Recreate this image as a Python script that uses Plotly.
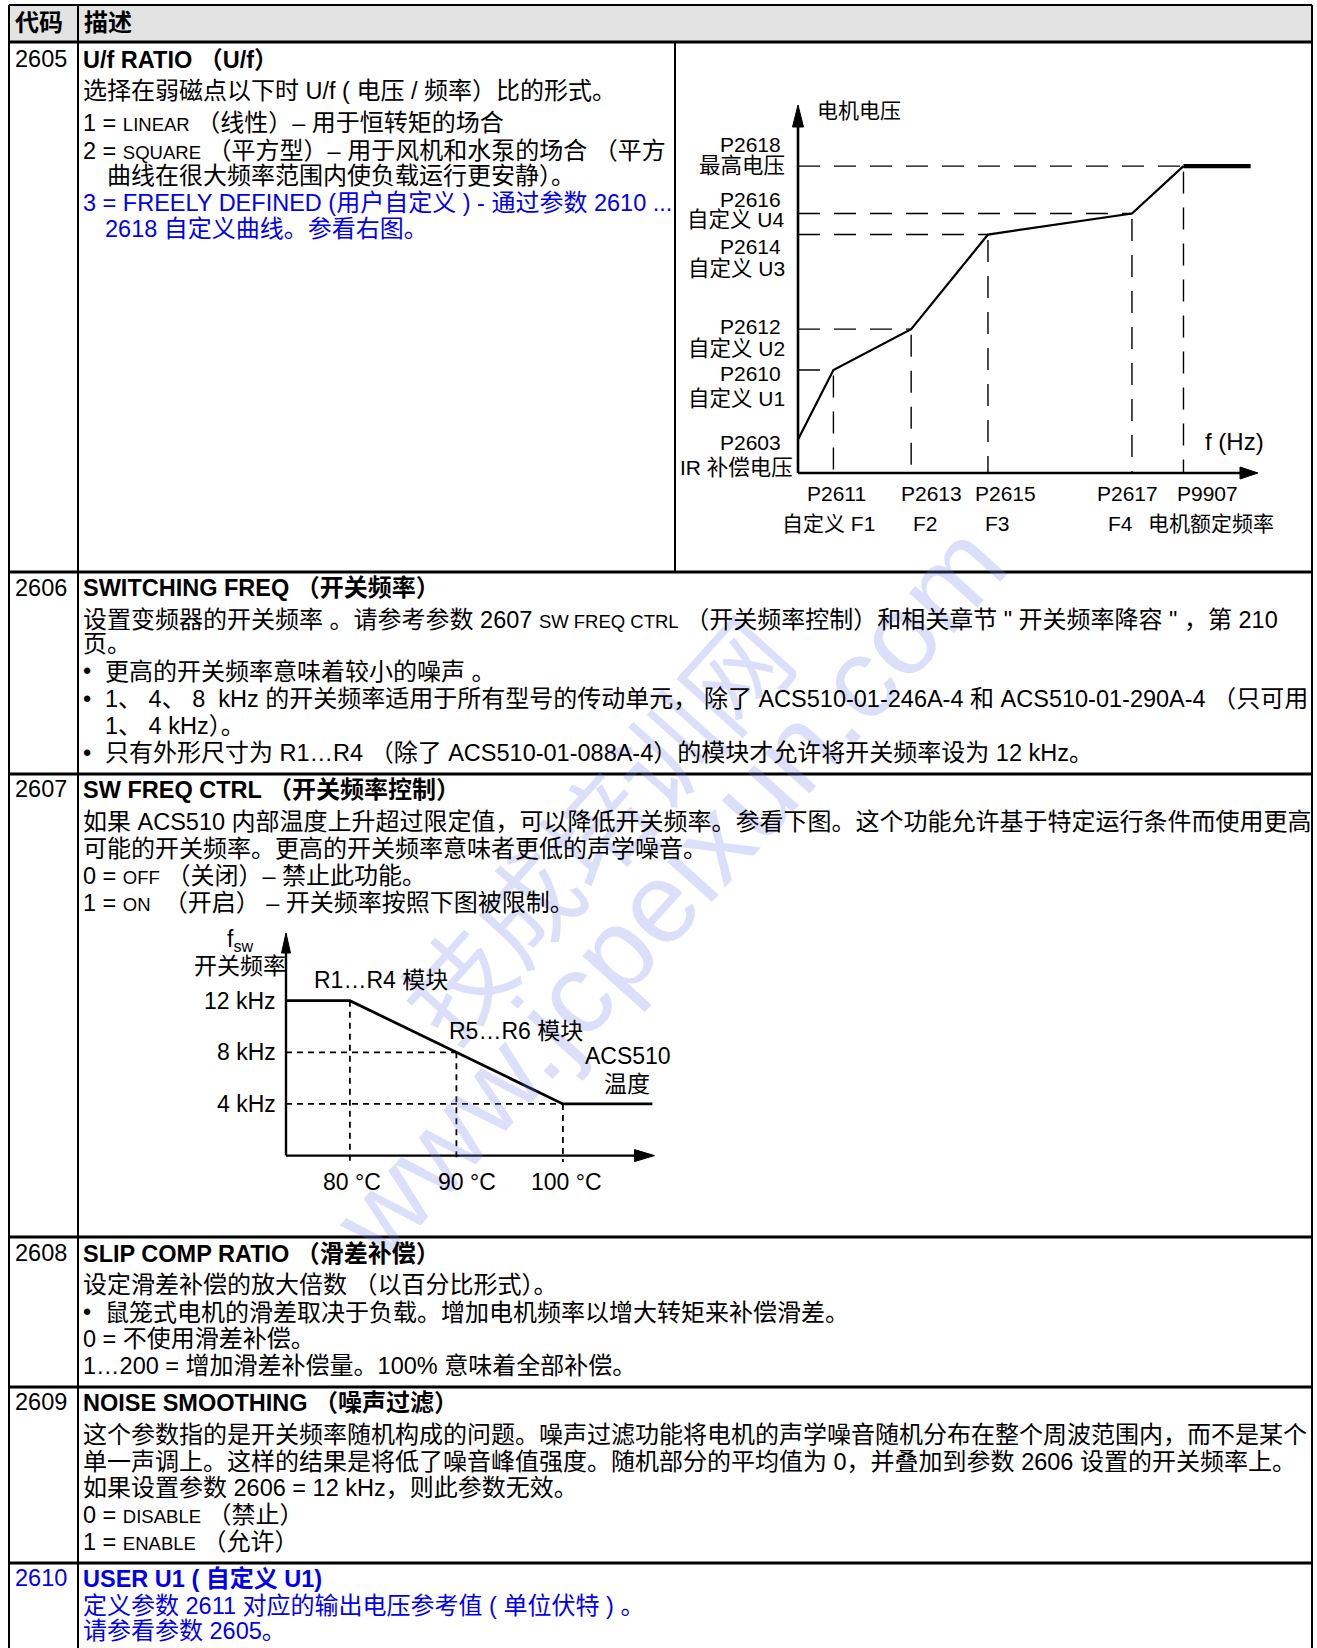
import re
import plotly.graph_objects as go

W, H = 1317, 1648
FONT = "Liberation Sans, Arial, Noto Sans CJK SC, sans-serif"
BLACK = "#000000"
BLUE = "#0000ee"
LATIN = 23.5

# ---------------- table structure (pixels) ----------------
table_left, table_right = 9, 1312
table_top, header_bottom = 5, 42
code_col = 78
chart_col = 675
row_lines = [572, 774, 1237, 1387, 1563]

# ---------------- text content ----------------
header_cells = [("代码", 13), ("描述", 82)]
codes = [("2605", 59, BLACK), ("2606", 588, BLACK), ("2607", 789, BLACK),
         ("2608", 1253, BLACK), ("2609", 1402, BLACK), ("2610", 1578, BLUE)]
titles = [("U/f RATIO （U/f）", 59, BLACK),
          ("SWITCHING FREQ （开关频率）", 588, BLACK),
          ("SW FREQ CTRL （开关频率控制）", 789, BLACK),
          ("SLIP COMP RATIO （滑差补偿）", 1253, BLACK),
          ("NOISE SMOOTHING （噪声过滤）", 1402, BLACK),
          ("USER U1 ( 自定义 U1)", 1578, BLUE)]
# (x, y, text, color)
body_lines = [
    (81, 90.5, "选择在弱磁点以下时 U/f ( 电压 / 频率）比的形式。", BLACK),
    (81, 123, "1 = [[LINEAR]] （线性）– 用于恒转矩的场合", BLACK),
    (81, 150, "2 = [[SQUARE]] （平方型）– 用于风机和水泵的场合 （平方", BLACK),
    (105, 176, "曲线在很大频率范围内使负载运行更安静）。", BLACK),
    (81, 202, "3 = FREELY DEFINED (用户自定义 ) - 通过参数 2610 ...", BLUE),
    (103, 228, "2618 自定义曲线。参看右图。", BLUE),

    (81, 619, "设置变频器的开关频率 。请参考参数 2607 [[SW FREQ CTRL]] （开关频率控制）和相关章节 \" 开关频率降容 \" ，第 210", BLACK),
    (81, 644, "页。", BLACK),
    (81, 671.5, "•", BLACK),
    (103, 671.5, "更高的开关频率意味着较小的噪声 。", BLACK),
    (81, 699, "•", BLACK),
    (103, 699, "1、 4、 8 \u00a0kHz 的开关频率适用于所有型号的传动单元， 除了 ACS510-01-246A-4 和 ACS510-01-290A-4 （只可用", BLACK),
    (103, 725, "1、 4 kHz）。", BLACK),
    (81, 752.5, "•", BLACK),
    (103, 752.5, "只有外形尺寸为 R1…R4 （除了 ACS510-01-088A-4）的模块才允许将开关频率设为 12 kHz。", BLACK),

    (81, 821, "如果 ACS510 内部温度上升超过限定值，可以降低开关频率。参看下图。这个功能允许基于特定运行条件而使用更高", BLACK),
    (81, 848, "可能的开关频率。更高的开关频率意味者更低的声学噪音。", BLACK),
    (81, 875.5, "0 = [[OFF]] （关闭）– 禁止此功能。", BLACK),
    (81, 902, "1 = [[ON]] \u00a0（开启） – 开关频率按照下图被限制。", BLACK),

    (81, 1284.5, "设定滑差补偿的放大倍数 （以百分比形式）。", BLACK),
    (81, 1312, "•", BLACK),
    (103, 1312, "鼠笼式电机的滑差取决于负载。增加电机频率以增大转矩来补偿滑差。", BLACK),
    (81, 1338, "0 = 不使用滑差补偿。", BLACK),
    (81, 1365.5, "1…200 = 增加滑差补偿量。100% 意味着全部补偿。", BLACK),

    (81, 1434, "这个参数指的是开关频率随机构成的问题。噪声过滤功能将电机的声学噪音随机分布在整个周波范围内，而不是某个", BLACK),
    (81, 1461, "单一声调上。这样的结果是将低了噪音峰值强度。随机部分的平均值为 0，并叠加到参数 2606 设置的开关频率上。", BLACK),
    (81, 1487, "如果设置参数 2606 = 12 kHz，则此参数无效。", BLACK),
    (81, 1514, "0 = [[DISABLE]] （禁止）", BLACK),
    (81, 1541, "1 = [[ENABLE]] （允许）", BLACK),

    (81, 1605, "定义参数 2611 对应的输出电压参考值 ( 单位伏特 ) 。", BLUE),
    (81, 1630, "请参看参数 2605。", BLUE),
]

# ---------------- U/f chart data (relative units, % of axis length) ----------------
uf_freq = [0, 7.7, 24.6, 41.3, 72.6, 83.8]        # IR, F1, F2, F3, F4, rated
uf_volt = [9.1, 28.0, 39.1, 64.8, 70.5, 83.4]     # IR comp, U1, U2, U3, U4, max
uf_flat_end = 98.4
uf_axis_end = 100
uf_y_labels = [("P2618", 783, 144.5), ("最高电压", 787, 166),
               ("P2616", 783, 199.5), ("自定义 U4", 787, 220),
               ("P2614", 783, 246.5), ("自定义 U3", 787, 269),
               ("P2612", 783, 327), ("自定义 U2", 787, 349),
               ("P2610", 783, 373), ("自定义 U1", 787, 398.5),
               ("P2603", 783, 442), ("IR 补偿电压", 795, 468)]
uf_x_codes = [("P2611", 836), ("P2613", 931), ("P2615", 1005), ("P2617", 1127), ("P9907", 1207)]
uf_x_names = [("自定义 F1", 828), ("F2", 925.5), ("F3", 997.5), ("F4", 1120.5), ("电机额定频率", 1211)]

# ---------------- switching frequency chart data ----------------
sw_temp = [74, 80, 100, 108.4]     # deg C
sw_freq = [12, 12, 4, 4]           # kHz
sw_t_ticks = [80, 90, 100]
sw_t_labels = ["80 °C", "90 °C", "100 °C"]
sw_t_shift = [2.5, 11, 4]
sw_f_ticks = [12, 8, 4]
sw_f_labels = ["12 kHz", "8 kHz", "4 kHz"]
sw_origin_t = 74
sw_axis_t_end = 108.6
sw_axis_f_end = 17.24

# ---------------- helpers ----------------
CJK_RE = re.compile(r'([\u2e80-\u9fff\u3000-\u303f\uff00-\uffef]+)')
SC_RE = re.compile(r'\[\[(.+?)\]\]')


def rich(s, cjk=24, sc=18.5):
    s = CJK_RE.sub(lambda m: f'<span style="font-size:{cjk}px">{m.group(1)}</span>', s)
    s = SC_RE.sub(lambda m: f'<span style="font-size:{sc}px">{m.group(1)}</span>', s)
    return s


def PX(x):
    return x / W


def PY(y):
    return 1 - y / H


annotations = []
shapes = []


def txt(x, y, s, size=LATIN, color=BLACK, xanchor='left', cjk=24, bold=False,
        xref='paper', yref='paper', xshift=0, yshift=0):
    t = rich(s, cjk)
    if bold:
        t = f"<b>{t}</b>"
    annotations.append(dict(
        x=PX(x) if xref == 'paper' else x,
        y=PY(y) if yref == 'paper' else y,
        xref=xref, yref=yref, text=t, showarrow=False,
        xanchor=xanchor, yanchor='middle', align=xanchor,
        font=dict(family=FONT, size=size, color=color),
        xshift=xshift, yshift=yshift))


def hline(y, x0, x1, w=2):
    shapes.append(dict(type='line', xref='paper', yref='paper',
                       x0=PX(x0), x1=PX(x1), y0=PY(y), y1=PY(y),
                       line=dict(color=BLACK, width=w)))


def vline(x, y0, y1, w=2):
    shapes.append(dict(type='line', xref='paper', yref='paper',
                       x0=PX(x), x1=PX(x), y0=PY(y0), y1=PY(y1),
                       line=dict(color=BLACK, width=w)))


# ---------------- watermark (drawn first, faint) ----------------
WM = "rgba(120,130,235,0.26)"
annotations.append(dict(x=PX(592), y=PY(825), xref='paper', yref='paper', showarrow=False,
                        text="技成培训网", textangle=-48,
                        font=dict(family="Noto Sans CJK SC", size=104, color=WM)))
annotations.append(dict(x=PX(668), y=PY(891), xref='paper', yref='paper', showarrow=False,
                        text="www.jcpeixun.com", textangle=-48,
                        font=dict(family="Liberation Sans", size=114, color=WM)))

# ---------------- table ----------------
shapes.append(dict(type='rect', xref='paper', yref='paper', x0=PX(table_left), x1=PX(table_right),
                   y0=PY(header_bottom), y1=PY(table_top), fillcolor="#e3e3e3", line=dict(width=0),
                   layer='below'))
hline(table_top, table_left, table_right, 2)
hline(header_bottom, table_left, table_right, 3)
for y in row_lines:
    hline(y, table_left, table_right, 3)
vline(table_left, table_top, H + 2, 2)
vline(table_right, table_top, H + 2, 2)
vline(code_col, table_top, H + 2, 2)
vline(chart_col, header_bottom, row_lines[0], 2)

for s, x in header_cells:
    txt(x, 22, s, bold=True)
for s, y, c in codes:
    txt(13, y, s, color=c)
for s, y, c in titles:
    txt(81, y, s, color=c, bold=True)
for x, y, s, c in body_lines:
    txt(x, y, s, color=c)

fig = go.Figure()

# ---------------- U/f chart (x, y axes) ----------------
uf_px0, uf_sx = 798, 4.6        # x: px at 0, px per unit
uf_py0, uf_sy = 473, 3.68       # y: px at 0, px per unit (upwards)
uf_xr = [-3, 104]
uf_yr = [-3, 104]
dashes_uf = "22px,14px"
for f, u in zip(uf_freq[1:], uf_volt[1:]):
    fig.add_trace(go.Scatter(x=[0, f], y=[u, u], mode='lines', xaxis='x', yaxis='y',
                             line=dict(color=BLACK, width=1.4, dash=dashes_uf), hoverinfo='skip'))
    fig.add_trace(go.Scatter(x=[f, f], y=[u - 1.5, 0], mode='lines', xaxis='x', yaxis='y',
                             line=dict(color=BLACK, width=1.4, dash=dashes_uf), hoverinfo='skip'))
fig.add_trace(go.Scatter(x=uf_freq, y=uf_volt, mode='lines', xaxis='x', yaxis='y',
                         line=dict(color=BLACK, width=2.2), hoverinfo='skip'))
fig.add_trace(go.Scatter(x=[uf_freq[-1], uf_flat_end], y=[uf_volt[-1], uf_volt[-1]], mode='lines',
                         xaxis='x', yaxis='y', line=dict(color=BLACK, width=4.2), hoverinfo='skip'))
ah_len_y, ah_w_y = 22 / uf_sy, 5.5 / uf_sx
ah_len_x, ah_w_x = 18 / uf_sx, 6 / uf_sy
fig.add_trace(go.Scatter(x=[0, 0], y=[0, uf_axis_end - ah_len_y + 0.5], mode='lines', xaxis='x', yaxis='y',
                         line=dict(color=BLACK, width=2.6), hoverinfo='skip'))
fig.add_trace(go.Scatter(x=[0, uf_axis_end - ah_len_x + 0.5], y=[0, 0], mode='lines', xaxis='x', yaxis='y',
                         line=dict(color=BLACK, width=2.6), hoverinfo='skip'))
fig.add_trace(go.Scatter(x=[0, -ah_w_y, ah_w_y, 0], y=[uf_axis_end, uf_axis_end - ah_len_y, uf_axis_end - ah_len_y, uf_axis_end],
                         mode='lines', fill='toself', fillcolor=BLACK, xaxis='x', yaxis='y',
                         line=dict(color=BLACK, width=1), hoverinfo='skip'))
fig.add_trace(go.Scatter(x=[uf_axis_end, uf_axis_end - ah_len_x, uf_axis_end - ah_len_x, uf_axis_end], y=[0, ah_w_x, -ah_w_x, 0],
                         mode='lines', fill='toself', fillcolor=BLACK, xaxis='x', yaxis='y',
                         line=dict(color=BLACK, width=1), hoverinfo='skip'))

txt(814.6, 110.4, "电机电压", size=21, cjk=21)
for s, x, y in uf_y_labels:
    txt(x, y, s, size=21, cjk=21.5, xanchor='right')
for s, x in uf_x_codes:
    txt(x, 494, s, size=21, cjk=21, xanchor='center')
for s, x in uf_x_names:
    txt(x, 523.5, s, size=21, cjk=21, xanchor='center')
txt(1234, 441, "f (Hz)", size=24, xanchor='center')

# ---------------- switching frequency chart (x2, y2 axes) ----------------
sw_px0, sw_sx = 286, 10.65      # px at 74 C, px per degC
sw_py0, sw_sy = 1155.6, 12.91   # px at 0 kHz, px per kHz
sw_xr = [72, 110]
sw_yr = [-1.5, 18.5]
dash_sw = "6px,5px"
for t, f in zip(sw_t_ticks, sw_f_ticks):
    if f != 12:
        fig.add_trace(go.Scatter(x=[sw_origin_t, t], y=[f, f], mode='lines', xaxis='x2', yaxis='y2',
                                 line=dict(color=BLACK, width=1.8, dash=dash_sw), hoverinfo='skip'))
    fig.add_trace(go.Scatter(x=[t, t], y=[f, -0.5], mode='lines', xaxis='x2', yaxis='y2',
                             line=dict(color=BLACK, width=1.8, dash=dash_sw), hoverinfo='skip'))
fig.add_trace(go.Scatter(x=sw_temp, y=sw_freq, mode='lines', xaxis='x2', yaxis='y2',
                         line=dict(color=BLACK, width=2.8), hoverinfo='skip'))
sah_len_y, sah_w_y = 20 / sw_sy, 4.5 / sw_sx
sah_len_x, sah_w_x = 20 / sw_sx, 6 / sw_sy
fig.add_trace(go.Scatter(x=[sw_origin_t, sw_origin_t], y=[0, sw_axis_f_end - sah_len_y + 0.2], mode='lines',
                         xaxis='x2', yaxis='y2', line=dict(color=BLACK, width=2.4), hoverinfo='skip'))
fig.add_trace(go.Scatter(x=[sw_origin_t, sw_axis_t_end - sah_len_x + 0.2], y=[0, 0], mode='lines',
                         xaxis='x2', yaxis='y2', line=dict(color=BLACK, width=2.4), hoverinfo='skip'))
fig.add_trace(go.Scatter(x=[sw_origin_t, sw_origin_t - sah_w_y, sw_origin_t + sah_w_y, sw_origin_t],
                         y=[sw_axis_f_end, sw_axis_f_end - sah_len_y, sw_axis_f_end - sah_len_y, sw_axis_f_end],
                         mode='lines', fill='toself', fillcolor=BLACK, xaxis='x2', yaxis='y2',
                         line=dict(color=BLACK, width=1), hoverinfo='skip'))
fig.add_trace(go.Scatter(x=[sw_axis_t_end, sw_axis_t_end - sah_len_x, sw_axis_t_end - sah_len_x, sw_axis_t_end],
                         y=[0, sah_w_x, -sah_w_x, 0],
                         mode='lines', fill='toself', fillcolor=BLACK, xaxis='x2', yaxis='y2',
                         line=dict(color=BLACK, width=1), hoverinfo='skip'))

for f, s in zip(sw_f_ticks, sw_f_labels):
    txt(sw_origin_t, f, s, size=23, xanchor='right', xref='x2', yref='y2', xshift=-8)
for t, s, sh in zip(sw_t_ticks, sw_t_labels, sw_t_shift):
    txt(t, 0, s, size=23, xanchor='center', xref='x2', yref='y2', xshift=sh, yshift=-26)
txt(240, 940, "f<sub>sw</sub>", size=23, xanchor='center')
txt(239.5, 966, "开关频率", size=23, cjk=23, xanchor='center')
txt(312, 980, "R1…R4 模块", size=23, cjk=23)
txt(447, 1031, "R5…R6 模块", size=23, cjk=23)
txt(583, 1056, "ACS510", size=23)
txt(626.5, 1084, "温度", size=23, cjk=23, xanchor='center')

uf_xdom = [(uf_px0 + uf_xr[0] * uf_sx) / W, (uf_px0 + uf_xr[1] * uf_sx) / W]
uf_ydom = [1 - (uf_py0 - uf_yr[0] * uf_sy) / H, 1 - (uf_py0 - uf_yr[1] * uf_sy) / H]
sw_xdom = [(sw_px0 + (sw_xr[0] - sw_origin_t) * sw_sx) / W, (sw_px0 + (sw_xr[1] - sw_origin_t) * sw_sx) / W]
sw_ydom = [1 - (sw_py0 - sw_yr[0] * sw_sy) / H, 1 - (sw_py0 - sw_yr[1] * sw_sy) / H]

ax_common = dict(visible=False, fixedrange=True, showgrid=False, zeroline=False)
fig.update_layout(
    width=W, height=H, margin=dict(l=0, r=0, t=0, b=0),
    paper_bgcolor='white', plot_bgcolor='rgba(0,0,0,0)', showlegend=False,
    xaxis=dict(domain=uf_xdom, range=uf_xr, anchor='y', **ax_common),
    yaxis=dict(domain=uf_ydom, range=uf_yr, anchor='x', **ax_common),
    xaxis2=dict(domain=sw_xdom, range=sw_xr, anchor='y2', **ax_common),
    yaxis2=dict(domain=sw_ydom, range=sw_yr, anchor='x2', **ax_common),
    annotations=annotations, shapes=shapes,
    font=dict(family=FONT, color=BLACK),
)

fig.write_html("out.html", config={'displayModeBar': False},
               post_script="document.body.style.margin='0px';document.body.style.overflow='hidden';")
